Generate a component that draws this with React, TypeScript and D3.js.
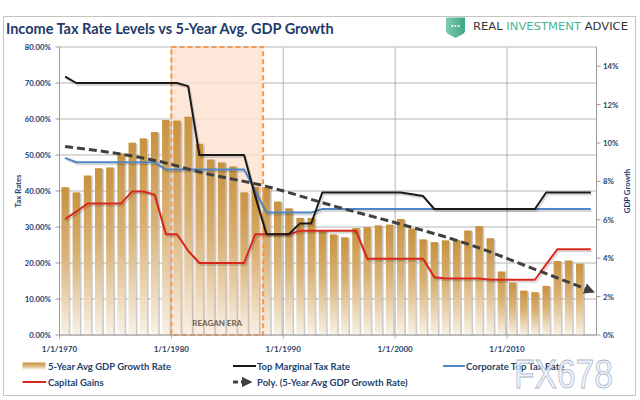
import React from "react";
import * as d3 from "d3";

// ---------- DATA ----------
const firstYear = 1970;
// 5-Year Avg GDP Growth Rate (%), 1970..2016 (right axis)
const gdpGrowth = [
  7.70, 7.43, 8.31, 8.69, 8.73, 9.46, 10.02, 10.24, 10.57, 11.20,
  11.17, 11.37, 9.96, 9.14, 8.99, 8.78, 7.43, 7.72, 7.70, 6.95,
  6.60, 6.10, 6.10, 5.45, 5.24, 5.09, 5.57, 5.62, 5.71, 5.75,
  6.04, 5.55, 4.98, 4.84, 4.93, 4.95, 5.44, 5.67, 5.04, 3.31,
  2.73, 2.31, 2.23, 2.56, 3.85, 3.88, 3.72,
];
// Top Marginal Tax Rate (%), 1970..2017 (left axis)
const topMarginal = [
  71.75, 70, 70, 70, 70, 70, 70, 70, 70, 70,
  70, 69.13, 50, 50, 50, 50, 50, 38.5, 28, 28,
  28, 31, 31, 39.6, 39.6, 39.6, 39.6, 39.6, 39.6, 39.6,
  39.6, 39.1, 38.6, 35, 35, 35, 35, 35, 35, 35,
  35, 35, 35, 39.6, 39.6, 39.6, 39.6, 39.6,
];
// Corporate Top Tax Rate (%), 1970..2017
const corporate = [
  49.2, 48, 48, 48, 48, 48, 48, 48, 48, 46,
  46, 46, 46, 46, 46, 46, 46, 40, 34, 34,
  34, 34, 34, 35, 35, 35, 35, 35, 35, 35,
  35, 35, 35, 35, 35, 35, 35, 35, 35, 35,
  35, 35, 35, 35, 35, 35, 35, 35,
];
// Capital Gains (%), 1970..2017
const capitalGains = [
  32.2, 34.25, 36.5, 36.5, 36.5, 36.5, 39.88, 39.88, 39.0, 28,
  28, 23.4, 20, 20, 20, 20, 20, 28, 28, 28,
  28, 28.93, 28.93, 28.93, 28.93, 28.93, 28.93, 21.19, 21.19, 21.19,
  21.19, 21.17, 21.16, 16.05, 15.7, 15.7, 15.7, 15.7, 15.35, 15.35,
  15.35, 15.35, 15.35, 19.6, 23.8, 23.8, 23.8, 23.8,
];
// Poly. trendline of GDP growth, read at anchor years
const trendYears = [1970, 1979, 1982, 1988, 1994, 2000, 2006, 2012, 2017];
const trendValues = [9.82, 8.96, 8.49, 7.74, 6.72, 5.77, 4.74, 3.42, 2.3];

const leftTicks = [0, 0.1, 0.2, 0.3, 0.4, 0.5, 0.6, 0.7, 0.8];
const rightTicks = [0, 2, 4, 6, 8, 10, 12, 14];
const xTickYears = [1970, 1980, 1990, 2000, 2010];
const reaganStart = 1980;
const reaganEnd = 1988.2;

// ---------- STYLE ----------
const navy = "#243f6b";
const font = "Lato, 'Open Sans', sans-serif";

export default function App() {
  const x = d3.scaleLinear().domain([1970, 2018]).range([59.5, 596.5]);
  const yL = d3.scaleLinear().domain([0, 0.8]).range([335, 47]);
  const yR = d3.scaleLinear().domain([0, 15]).range([335, 47]);
  const slot = x(1971) - x(1970);
  const barW = slot * 0.66;

  const lineL = d3
    .line<number>()
    .x((_, i) => x(firstYear + i + 0.5))
    .y((d) => yL(d / 100));

  const trendLine = d3
    .line<number>()
    .x((_, i) => x(trendYears[i] + 0.5))
    .y((d) => yR(d))
    .curve(d3.curveMonotoneX);

  const series = [
    { data: capitalGains, color: "#d9261c" },
    { data: corporate, color: "#4f86c6" },
    { data: topMarginal, color: "#1a1a1a" },
  ];

  const fmtL = d3.format(".2%");

  return (
    <svg
      width={640}
      height={400}
      style={{ position: "absolute", left: 0, top: 0, background: "#fff" }}
      fontFamily={font}
    >
      <defs>
        <linearGradient id="barGrad" x1="0" y1="0" x2="0" y2="1">
          <stop offset="0" stopColor="#c8923f" />
          <stop offset="0.45" stopColor="#d9b174" />
          <stop offset="1" stopColor="#f8f1e6" />
        </linearGradient>
        <linearGradient id="shieldGrad" x1="0" y1="0" x2="1" y2="0">
          <stop offset="0" stopColor="#7fcab1" />
          <stop offset="1" stopColor="#3fa884" />
        </linearGradient>
        <marker
          id="arrow"
          viewBox="0 0 10 10"
          refX="6"
          refY="5"
          markerWidth="3.6"
          markerHeight="3.6"
          orient="auto"
          markerUnits="strokeWidth"
        >
          <path d="M0,0 L10,5 L0,10 Z" fill="#404040" />
        </marker>
      </defs>

      {/* outer border */}
      <rect x={3.5} y={16.5} width={632} height={379} fill="#fff" stroke="#c4c4c4" />

      {/* title */}
      <text x={6} y={34} fontSize={14.5} fontWeight={700} fill="#1f3b6b">
        Income Tax Rate Levels vs 5-Year Avg. GDP Growth
      </text>

      {/* logo */}
      <path
        d="M446,17.5 L465,17.5 L465,30 Q465,33 462,34.5 L455.5,38 L449,34.5 Q446,33 446,30 Z"
        fill="url(#shieldGrad)"
      />
      {[452.3, 455.5, 458.7].map((cx) => (
        <circle key={cx} cx={cx} cy={26} r={1} fill="#fff" />
      ))}
      <text x={473} y={29.5} fontSize={10.5} fontFamily="'DejaVu Sans', sans-serif" textLength={155} lengthAdjust="spacingAndGlyphs">
        <tspan fill="#333">REAL </tspan>
        <tspan fill="#4db391">INVESTMENT </tspan>
        <tspan fill="#333">ADVICE</tspan>
      </text>

      {/* horizontal gridlines */}
      {leftTicks.map((t) => (
        <line key={t} x1={x(1970)} x2={x(2018)} y1={yL(t)} y2={yL(t)} stroke="#b5b5b5" strokeWidth={1} />
      ))}
      {/* vertical gridlines */}
      {xTickYears.map((yr) => (
        <line key={yr} x1={x(yr)} x2={x(yr)} y1={yL(0.8)} y2={yL(0) + 4} stroke="#b5b5b5" strokeWidth={1} />
      ))}

      {/* Reagan era fill */}
      <rect
        x={x(reaganStart)}
        y={yL(0.8)}
        width={x(reaganEnd) - x(reaganStart)}
        height={yL(0) - yL(0.8)}
        fill="#fbe1cf"
        fillOpacity={0.8}
      />

      {/* bars */}
      {gdpGrowth.map((v, i) => {
        const bx = x(firstYear + i + 0.5) - barW / 2;
        const by = yR(v);
        return (
          <g key={i}>
            <rect x={bx + 1.6} y={by + 1} width={barW} height={yR(0) - by - 1} fill="#a9a9a9" fillOpacity={0.6} />
            <rect x={bx} y={by} width={barW} height={yR(0) - by} fill="url(#barGrad)" />
          </g>
        );
      })}

      {/* Reagan era border */}
      <rect
        x={x(reaganStart)}
        y={yL(0.8)}
        width={x(reaganEnd) - x(reaganStart)}
        height={yL(0) - yL(0.8)}
        fill="none"
        stroke="#f39a4f"
        strokeWidth={2}
        strokeDasharray="5,3"
      />
      <text
        x={(x(reaganStart) + x(reaganEnd)) / 2}
        y={326}
        textAnchor="middle"
        fontSize={8}
        fontWeight={700}
        fill="#6e5d4e"
      >
        REAGAN ERA
      </text>

      {/* axes */}
      <line x1={x(1970)} x2={x(1970)} y1={yL(0.8)} y2={yL(0)} stroke="#9a9a9a" />
      <line x1={x(2018)} x2={x(2018)} y1={yL(0.8)} y2={yL(0)} stroke="#9a9a9a" />
      <line x1={x(1970)} x2={x(2018)} y1={yL(0)} y2={yL(0)} stroke="#9a9a9a" />
      {leftTicks.map((t) => (
        <g key={t}>
          <line x1={x(1970) - 4} x2={x(1970)} y1={yL(t)} y2={yL(t)} stroke="#9a9a9a" />
          <text x={51} y={yL(t) + 3} textAnchor="end" fontSize={7.8} fontWeight={700} fill={navy}>
            {fmtL(t)}
          </text>
        </g>
      ))}
      {rightTicks.map((t) => (
        <g key={t}>
          <line x1={x(2018)} x2={x(2018) + 4} y1={yR(t)} y2={yR(t)} stroke="#9a9a9a" />
          <text x={603} y={yR(t) + 3} fontSize={7.8} fontWeight={700} fill={navy}>
            {t}%
          </text>
        </g>
      ))}
      {xTickYears.map((yr) => (
        <text key={yr} x={x(yr)} y={352} textAnchor="middle" fontSize={8} fontWeight={700} fill={navy}>
          {`1/1/${yr}`}
        </text>
      ))}
      <text transform="translate(21,191) rotate(-90)" textAnchor="middle" fontSize={7.8} fontWeight={700} fill={navy}>
        Tax Rates
      </text>
      <text transform="translate(630,191) rotate(-90)" textAnchor="middle" fontSize={7.8} fontWeight={700} fill={navy}>
        GDP Growth
      </text>

      {/* lines */}
      {series.map((s, i) => (
        <g key={i}>
          <path d={lineL(s.data) || ""} fill="none" stroke="#000" strokeOpacity={0.15} strokeWidth={2} transform="translate(1.5,2)" />
          <path d={lineL(s.data) || ""} fill="none" stroke={s.color} strokeWidth={2} strokeLinejoin="round" />
        </g>
      ))}

      {/* polynomial trend */}
      <path
        d={trendLine(trendValues) || ""}
        fill="none"
        stroke="#404040"
        strokeWidth={3}
        strokeDasharray="8,4"
        markerEnd="url(#arrow)"
      />

      {/* legend */}
      <g fontSize={9.5} fontWeight={700} fill={navy}>
        <rect x={22.5} y={362.5} width={23} height={7} fill="url(#barGrad)" />
        <text x={48} y={369.5}>5-Year Avg GDP Growth Rate</text>

        <line x1={233} x2={256} y1={366} y2={366} stroke="#1a1a1a" strokeWidth={2} />
        <text x={257} y={369.5}>Top Marginal Tax Rate</text>

        <line x1={443} x2={465} y1={366} y2={366} stroke="#4f86c6" strokeWidth={2} />
        <text x={466} y={369.5}>Corporate Top Tax Rate</text>

        <line x1={22.5} x2={46} y1={382} y2={382} stroke="#d9261c" strokeWidth={2} />
        <text x={48} y={385.5}>Capital Gains</text>

        <line x1={233} x2={248} y1={382} y2={382} stroke="#404040" strokeWidth={3} strokeDasharray="5,3" markerEnd="url(#arrow)" />
        <text x={257} y={385.5}>Poly. (5-Year Avg GDP Growth Rate)</text>
      </g>

      {/* watermark */}
      <text
        x={514}
        y={388}
        fontSize={40}
        fontFamily="'Liberation Sans', sans-serif"
        textLength={99}
        lengthAdjust="spacingAndGlyphs"
        fill="#eef2f8"
        fillOpacity={0.85}
        stroke="#a8b6cb"
        strokeWidth={0.8}
      >
        FX678
      </text>
    </svg>
  );
}
